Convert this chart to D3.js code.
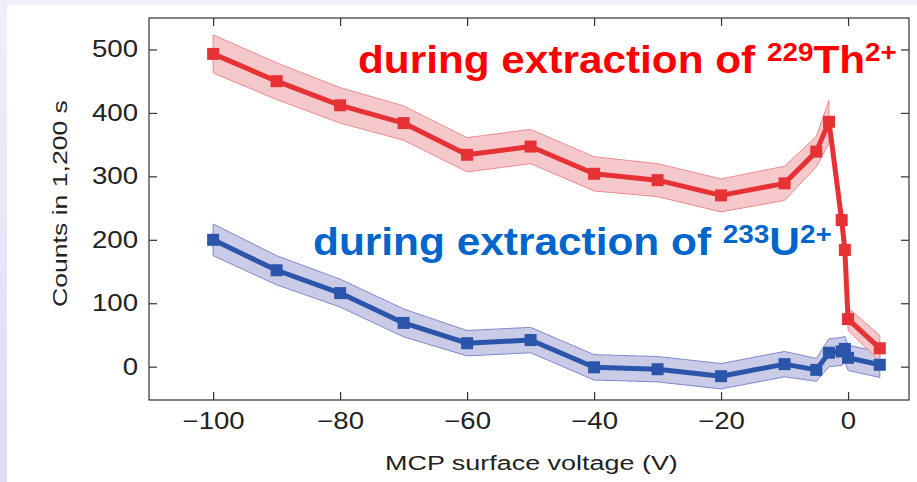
<!DOCTYPE html>
<html>
<head>
<meta charset="utf-8">
<script src="https://cdn.jsdelivr.net/npm/d3@7"></script>
<style>
  body { margin: 0; background: #fff; }
  svg { display: block; }
  text { font-family: "Liberation Sans", Arial, Helvetica, sans-serif; }
</style>
</head>
<body>
<svg id="chart" width="917" height="482"></svg>
<script>
// MCP surface voltage (V)
const voltage = [-100, -90, -80, -70, -60, -50, -40, -30, -20, -10, -5, -3, -1, -0.5, 0, 5];
// counts in 1,200 s during extraction of 229Th2+
const thCounts = [493, 450, 412, 384, 334, 347, 304, 294, 270, 289, 339, 386, 231, 184, 75, 29];
const thErr = [30, 29, 28, 27, 27, 27, 27, 26, 26, 27, 24, 34, null, null, 18, 20];
// counts in 1,200 s during extraction of 233U2+
const uCounts = [200, 152, 116, 69, 37, 42, -1, -4, -15, 4, -5, 22, 24, 28, 14, 3];
const uErr = [25, 23, 22, 22, 20, 20, 20, 20, 20, 20, 18, 22, 22, 20, 20, 20];

const xTicks = [-100, -80, -60, -40, -20, 0];
const yTicks = [0, 100, 200, 300, 400, 500];

const svg = d3.select('#chart');

// page backdrop
const defs = svg.append('defs');
const grad = defs.append('linearGradient').attr('id', 'edge').attr('x1', 0).attr('y1', 0).attr('x2', 0).attr('y2', 1);
grad.append('stop').attr('offset', 0).attr('stop-color', '#eeeffa');
grad.append('stop').attr('offset', 1).attr('stop-color', '#dcdcf3');
svg.append('rect').attr('width', 917).attr('height', 482).attr('fill', '#eef0fa');
svg.append('rect').attr('width', 7).attr('height', 482).attr('fill', 'url(#edge)');
svg.append('rect').attr('x', 7).attr('y', 5).attr('width', 910).attr('height', 477).attr('fill', '#fff');

const plotLeft = 149, plotRight = 909, plotTop = 18, plotBottom = 400;

const x = d3.scaleLinear().domain([-110.1, 9.6]).range([plotLeft, plotRight]);
const y = d3.scaleLinear().domain([-52.5, 549.6]).range([plotBottom, plotTop]);

const axisColor = '#333';
const stretch = 1.2;

const styleAxis = g => {
  g.select('.domain').remove();
  g.selectAll('line').attr('stroke', axisColor).attr('stroke-width', 1.2);
  g.selectAll('text').attr('fill', '#222').attr('font-size', 23);
};

svg.append('g')
  .attr('transform', `translate(0,${plotBottom})`)
  .call(d3.axisBottom(x).tickValues(xTicks).tickSize(-8).tickPadding(13))
  .call(styleAxis)
  .call(g => g.selectAll('text').attr('transform', `scale(${stretch},1)`));

svg.append('g')
  .attr('transform', `translate(0,${plotTop})`)
  .call(d3.axisTop(x).tickValues(xTicks).tickSize(-8).tickFormat(''))
  .call(styleAxis);

svg.append('g')
  .attr('transform', `translate(${plotLeft},0)`)
  .call(d3.axisLeft(y).tickValues(yTicks).tickSize(-8).tickPadding(11 / stretch))
  .call(styleAxis)
  .call(g => g.selectAll('text').attr('transform', `scale(${stretch},1)`));

svg.append('g')
  .attr('transform', `translate(${plotRight},0)`)
  .call(d3.axisRight(y).tickValues(yTicks).tickSize(-8).tickFormat(''))
  .call(styleAxis);

svg.append('rect')
  .attr('x', plotLeft).attr('y', plotTop)
  .attr('width', plotRight - plotLeft).attr('height', plotBottom - plotTop)
  .attr('fill', 'none').attr('stroke', axisColor).attr('stroke-width', 1.2);

const rows = (counts, err) => voltage.map((v, i) => ({ v, c: counts[i], e: err[i] }));
const th = rows(thCounts, thErr);
const u = rows(uCounts, uErr);

const band = d3.area()
  .defined(d => d.e != null)
  .x(d => x(d.v))
  .y0(d => y(d.c - d.e))
  .y1(d => y(d.c + d.e));

const line = d3.line().x(d => x(d.v)).y(d => y(d.c));

const series = [
  { data: u, fill: '#c9cbe7', edge: '#7f88cf', color: '#2b55ab' },
  { data: th, fill: '#f5c9cb', edge: '#ee8a8e', color: '#e63234' }
];

series.forEach(s => {
  svg.append('path')
    .attr('d', band(s.data))
    .attr('fill', s.fill)
    .attr('stroke', s.edge)
    .attr('stroke-width', 1);
});

series.forEach(s => {
  svg.append('path')
    .attr('d', line(s.data))
    .attr('fill', 'none')
    .attr('stroke', s.color)
    .attr('stroke-width', 5)
    .attr('stroke-linejoin', 'round');
  svg.append('g').selectAll('rect')
    .data(s.data)
    .join('rect')
    .attr('x', d => x(d.v) - 6)
    .attr('y', d => y(d.c) - 6)
    .attr('width', 12)
    .attr('height', 12)
    .attr('fill', s.color);
});

// squeeze a text element so that it spans [x0, x0 + width]
const fit = (sel, x0, width) => {
  const b = sel.node().getBBox();
  const s = width / b.width;
  sel.attr('transform', `translate(${x0 - b.x * s},0) scale(${s},1)`);
};

const annotate = (label, mass, ion, color, baseline, x0, width) => {
  const t = svg.append('text')
    .attr('x', 0).attr('y', baseline)
    .attr('fill', color)
    .attr('font-weight', 'bold')
    .attr('font-size', 38);
  t.append('tspan').text(label);
  t.append('tspan').attr('font-size', 25).attr('dy', -12).text(mass);
  t.append('tspan').attr('font-size', 38).attr('dy', 12).text(ion);
  t.append('tspan').attr('font-size', 25).attr('dy', -12).text('2+');
  fit(t, x0, width);
};

annotate('during extraction of ', '229', 'Th', '#ff0000', 73, 358, 539);
annotate('during extraction of ', '233', 'U', '#0066cc', 255, 313, 519);

// axis titles
const xTitle = svg.append('text')
  .attr('x', 0).attr('y', 470)
  .attr('fill', '#222').attr('font-size', 21)
  .text('MCP surface voltage (V)');
fit(xTitle, 385, 293);

const yTitleGroup = svg.append('g').attr('transform', 'translate(67,307) rotate(-90)');
const yTitle = yTitleGroup.append('text')
  .attr('x', 0).attr('y', 0)
  .attr('fill', '#222').attr('font-size', 21)
  .text('Counts in 1,200 s');
fit(yTitle, 0, 207);
</script>
</body>
</html>
